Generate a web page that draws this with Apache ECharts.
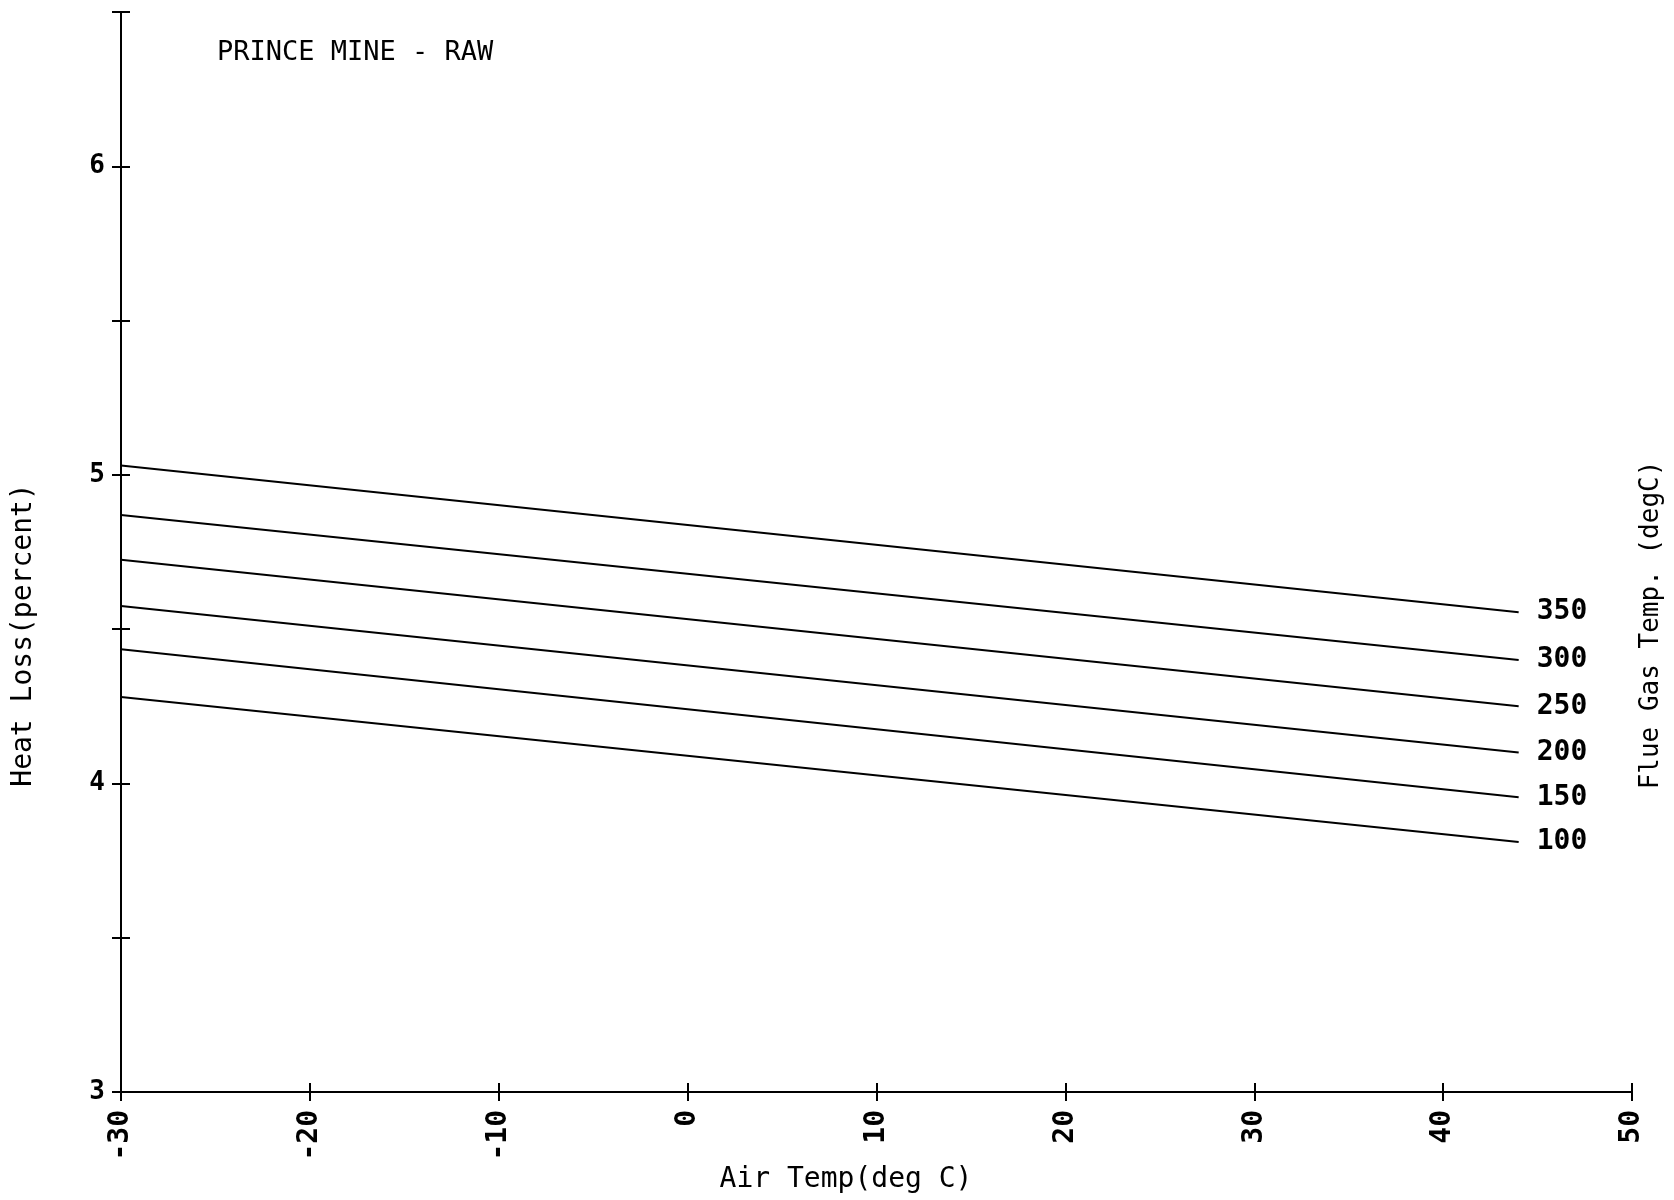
<!DOCTYPE html>
<html>
<head>
<meta charset="utf-8">
<title>Prince Mine - Raw</title>
<script src="https://cdn.jsdelivr.net/npm/echarts@6/dist/echarts.min.js"></script>
<style>
  html, body { margin: 0; padding: 0; background: #fff; }
  #chart { width: 1674px; height: 1200px; }
</style>
</head>
<body>
<div id="chart"></div>
<script>
// data
var airTemps = [-30, 44];
var flueTemps = ['350', '300', '250', '200', '150', '100'];
var loss350 = [5.03, 4.555];
var loss300 = [4.87, 4.40];
var loss250 = [4.725, 4.25];
var loss200 = [4.575, 4.10];
var loss150 = [4.435, 3.955];
var loss100 = [4.28, 3.81];
var lossList = [loss350, loss300, loss250, loss200, loss150, loss100];

var font = 'DejaVu Sans Mono';
var chart = echarts.init(document.getElementById('chart'));

var series = [];
for (var i = 0; i < flueTemps.length; i++) {
  var pts = [];
  for (var j = 0; j < airTemps.length; j++) {
    pts.push([airTemps[j], lossList[i][j]]);
  }
  series.push({
    name: flueTemps[i],
    type: 'line',
    xAxisIndex: 0,
    yAxisIndex: 0,
    data: pts,
    symbol: 'none',
    silent: true,
    lineStyle: { color: '#000', width: 2 },
    endLabel: {
      show: true,
      formatter: '{a}',
      distance: 18,
      color: '#000',
      fontFamily: font,
      fontWeight: 'bold',
      fontSize: 28
    }
  });
}
// empty series so the twin axes get drawn
series.push({ type: 'line', xAxisIndex: 1, yAxisIndex: 1, data: [], silent: true });

// axis names placed by hand (the originals sit off-centre)
function vText(text, x, y, size) {
  return {
    type: 'text', x: x, y: y, rotation: Math.PI / 2,
    style: { text: text, fontFamily: font, fontSize: size, fill: '#000', align: 'center', verticalAlign: 'middle' }
  };
}

// hidden twin axes, only for the inner half of the crossing ticks
var innerLine = { show: true, onZero: false, lineStyle: { color: 'rgba(0,0,0,0)', width: 0 } };
var innerTick = { show: true, inside: true, length: 9, lineStyle: { color: '#000', width: 2 } };

var option = {
  animation: false,
  backgroundColor: '#fff',
  title: {
    text: 'PRINCE MINE - RAW',
    left: 212,
    top: 34,
    textStyle: { fontFamily: font, fontWeight: 'normal', fontSize: 27, color: '#000' }
  },
  grid: { left: 121, right: 42, top: 12, bottom: 108 },
  xAxis: [{
    type: 'value',
    min: -30, max: 50, interval: 10,
    axisLine: { show: true, onZero: false, lineStyle: { color: '#000', width: 2 } },
    axisTick: { show: true, length: 9, lineStyle: { color: '#000', width: 2 } },
    axisLabel: { rotate: 90, margin: 18, fontFamily: font, fontWeight: 'bold', fontSize: 28, color: '#000' },
    splitLine: { show: false }
  }, {
    show: true,
    type: 'value',
    min: -30, max: 50, interval: 10,
    position: 'bottom',
    offset: 0,
    axisLine: innerLine,
    axisTick: innerTick,
    axisLabel: { show: false },
    splitLine: { show: false }
  }],
  yAxis: [{
    type: 'value',
    min: 3, max: 6.5, interval: 0.5,
    axisLine: { show: true, onZero: false, lineStyle: { color: '#000', width: 2 } },
    axisTick: { show: true, length: 9, lineStyle: { color: '#000', width: 2 } },
    axisLabel: {
      margin: 16, fontFamily: font, fontWeight: 'bold', fontSize: 26, color: '#000',
      formatter: function (v) { return v % 1 === 0 ? String(v) : ''; }
    },
    splitLine: { show: false }
  }, {
    show: true,
    type: 'value',
    min: 3, max: 6.5, interval: 0.5,
    position: 'left',
    offset: 0,
    axisLine: innerLine,
    axisTick: innerTick,
    axisLabel: { show: false },
    splitLine: { show: false }
  }],
  graphic: [
    vText('Heat Loss(percent)', 24, 635, 28),
    vText('Flue Gas Temp. (degC)', 1651, 625, 26),
    {
      type: 'text', x: 846, y: 1180,
      style: { text: 'Air Temp(deg C)', fontFamily: font, fontSize: 28, fill: '#000', align: 'center', verticalAlign: 'middle' }
    }
  ],
  series: series
};

chart.setOption(option);
</script>
</body>
</html>
